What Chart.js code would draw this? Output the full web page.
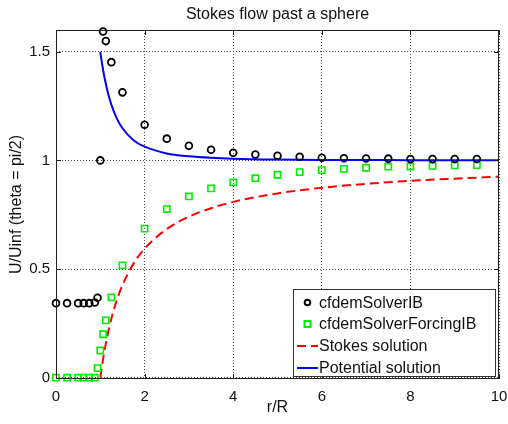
<!DOCTYPE html>
<html>
<head>
<meta charset="utf-8">
<script src="https://cdn.jsdelivr.net/npm/chart.js@4/dist/chart.umd.min.js"></script>
<style>
    html, body { margin: 0; padding: 0; background: #fff; }
    canvas { display: block; }
</style>
</head>
<body>
<canvas id="chart" width="508" height="424"></canvas>
<script>
// ── Data ──
const sampleR = [0, 0.25, 0.5, 0.625, 0.75, 0.875, 0.9375, 1, 1.0625, 1.125, 1.25, 1.5,
    2, 2.5, 3, 3.5, 4, 4.5, 5, 5.5, 6, 6.5, 7, 7.5, 8, 8.5, 9, 9.5];
const solverIB = [0.343, 0.343, 0.343, 0.343, 0.343, 0.346, 0.368, 1.0, 1.593, 1.549, 1.452, 1.313,
    1.164, 1.100, 1.067, 1.049, 1.035, 1.027, 1.021, 1.017, 1.012, 1.010, 1.009, 1.008, 1.006, 1.006, 1.006, 1.006];
const solverForcingIB = [0, 0, 0, 0, 0, 0, 0.044, 0.125, 0.200, 0.264, 0.370, 0.517,
    0.686, 0.776, 0.834, 0.871, 0.899, 0.918, 0.934, 0.946, 0.955, 0.961, 0.966, 0.971, 0.972, 0.975, 0.977, 0.978];

const curveR = [1, 1.025, 1.05, 1.1, 1.2, 1.3, 1.4, 1.5, 1.75, 2, 2.5, 3, 3.5, 4, 5, 6, 7, 8, 9, 10];
const stokes = [0, 0.036, 0.070, 0.130, 0.230, 0.309, 0.373, 0.426, 0.525, 0.594, 0.684, 0.741,
    0.780, 0.809, 0.848, 0.874, 0.892, 0.906, 0.916, 0.925];
const potential = [1.5, 1.464, 1.432, 1.376, 1.289, 1.228, 1.182, 1.148, 1.093, 1.063, 1.032, 1.019,
    1.012, 1.008, 1.004, 1.002, 1.0015, 1.001, 1.0007, 1.0005];

const xTicks = [0, 2, 4, 6, 8, 10];
const yTicks = [0, 0.5, 1, 1.5];

const FONT = "'Liberation Sans', Arial, Helvetica, sans-serif";

const pts = (xs, ys) => xs.map((x, i) => ({ x, y: ys[i] }));

// ── Decorations: title, axis labels, frame, inward ticks, legend ──
const decor = {
    id: 'decor',
    afterDraw(chart) {
        const { ctx, chartArea: a, scales } = chart;
        ctx.save();

        // frame
        ctx.strokeStyle = '#222';
        ctx.lineWidth = 1;
        ctx.setLineDash([]);
        ctx.strokeRect(a.left + 0.5, a.top + 0.5, a.right - a.left - 1, a.bottom - a.top - 1);

        // inward tick marks (MATLAB style)
        ctx.beginPath();
        xTicks.forEach(v => {
            const px = Math.round(scales.x.getPixelForValue(v)) + 0.5;
            ctx.moveTo(px, a.bottom); ctx.lineTo(px, a.bottom - 5);
            ctx.moveTo(px, a.top); ctx.lineTo(px, a.top + 5);
        });
        yTicks.forEach(v => {
            const py = Math.round(scales.y.getPixelForValue(v)) + 0.5;
            ctx.moveTo(a.left, py); ctx.lineTo(a.left + 5, py);
            ctx.moveTo(a.right, py); ctx.lineTo(a.right - 5, py);
        });
        ctx.stroke();

        // texts
        ctx.fillStyle = '#111';
        ctx.font = `16px ${FONT}`;
        ctx.textAlign = 'center';
        ctx.textBaseline = 'middle';
        ctx.fillText('Stokes flow past a sphere', (a.left + a.right) / 2, 15);
        ctx.fillText('r/R', (a.left + a.right) / 2, 408);
        ctx.save();
        ctx.translate(17, (a.top + a.bottom) / 2);
        ctx.rotate(-Math.PI / 2);
        ctx.fillText('U/Uinf (theta = pi/2)', 0, 0);
        ctx.restore();

        // legend box
        const lx = 293.5, ly = 289.5, lw = 202, lh = 87;
        ctx.fillStyle = '#fff';
        ctx.fillRect(lx, ly, lw, lh);
        ctx.strokeStyle = '#333';
        ctx.strokeRect(lx, ly, lw, lh);

        const rows = [302.5, 324, 346, 368];
        chart.data.datasets.forEach((ds, i) => {
            const y = rows[i];
            ctx.save();
            ctx.strokeStyle = ds.borderColor;
            ctx.lineWidth = 2;
            if (ds.showLine) {
                ctx.setLineDash(ds.borderDash || []);
                ctx.beginPath();
                ctx.moveTo(297, y); ctx.lineTo(318, y);
                ctx.stroke();
            } else if (ds.pointStyle === 'rect') {
                ctx.strokeRect(304.5, y - 3, 6, 6);
            } else {
                ctx.beginPath();
                ctx.arc(307.5, y, 2.8, 0, Math.PI * 2);
                ctx.stroke();
            }
            ctx.restore();
            ctx.fillStyle = '#111';
            ctx.font = `16px ${FONT}`;
            ctx.textAlign = 'left';
            ctx.textBaseline = 'middle';
            ctx.fillText(ds.label, 319, y + 1);
        });

        ctx.restore();
    }
};

new Chart(document.getElementById('chart'), {
    type: 'scatter',
    data: {
        datasets: [
            {
                label: 'cfdemSolverIB',
                data: pts(sampleR, solverIB),
                pointStyle: 'circle',
                pointRadius: 3.4,
                borderColor: '#000',
                backgroundColor: 'rgba(0,0,0,0)',
                borderWidth: 1.8,
                showLine: false,
                clip: false,
                order: 1,
            },
            {
                label: 'cfdemSolverForcingIB',
                data: pts(sampleR, solverForcingIB),
                pointStyle: 'rect',
                pointRadius: 4.4,
                borderColor: '#00ee00',
                backgroundColor: 'rgba(0,0,0,0)',
                borderWidth: 1.6,
                showLine: false,
                clip: false,
                order: 2,
            },
            {
                label: 'Stokes solution',
                data: pts(curveR, stokes),
                showLine: true,
                borderColor: '#ff0000',
                borderWidth: 2,
                borderDash: [9, 5],
                pointRadius: 0,
                cubicInterpolationMode: 'monotone',
                order: 3,
            },
            {
                label: 'Potential solution',
                data: pts(curveR, potential),
                showLine: true,
                borderColor: '#0000ff',
                borderWidth: 2,
                pointRadius: 0,
                cubicInterpolationMode: 'monotone',
                order: 4,
            },
        ]
    },
    options: {
        responsive: false,
        animation: false,
        layout: { padding: { left: 0, right: 9, top: 30, bottom: 0 } },
        plugins: {
            legend: { display: false },
            title: { display: false },
            tooltip: { enabled: false },
        },
        scales: {
            x: {
                type: 'linear',
                min: 0,
                max: 10,
                afterFit: s => { s.height = 45; s.paddingLeft = 0; s.paddingRight = 0; },
                afterBuildTicks: s => { s.ticks = xTicks.map(v => ({ value: v })); },
                grid: { color: '#444', drawTicks: false },
                border: { display: false, dash: [1, 2] },
                ticks: { color: '#111', font: { family: FONT, size: 15 }, padding: 9, maxRotation: 0 },
            },
            y: {
                type: 'linear',
                min: -0.006,
                max: 1.6,
                afterFit: s => { s.width = 56; s.paddingTop = 0; s.paddingBottom = 0; },
                afterBuildTicks: s => { s.ticks = yTicks.map(v => ({ value: v })); },
                grid: { color: '#444', drawTicks: false },
                border: { display: false, dash: [1, 2] },
                ticks: {
                    color: '#111',
                    font: { family: FONT, size: 15 },
                    padding: 6,
                    callback: v => String(v),
                },
            },
        },
    },
    plugins: [decor],
});
</script>
</body>
</html>
